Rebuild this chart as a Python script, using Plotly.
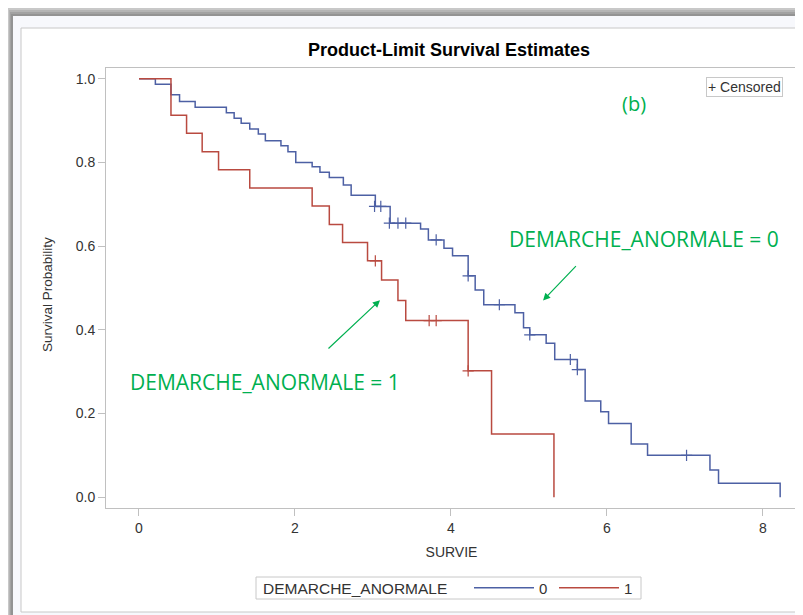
import plotly.graph_objects as go

# group 0 (DEMARCHE_ANORMALE = 0)
t0 = [0, 0.21, 0.41, 0.52, 0.72, 1.12, 1.22, 1.31, 1.42, 1.53, 1.62, 1.82, 1.91, 2.01,
      2.22, 2.32, 2.44, 2.62, 2.72, 3.03, 3.22, 3.61, 3.71, 3.91, 4.02, 4.22, 4.31,
      4.42, 4.82, 4.93, 5.01, 5.22, 5.33, 5.62, 5.72, 5.92, 6.02, 6.31, 6.52, 7.32,
      7.43, 8.22]
s0 = [1.0, 0.987, 0.962, 0.946, 0.932, 0.919, 0.906, 0.894, 0.880, 0.868, 0.852, 0.840,
      0.826, 0.800, 0.790, 0.777, 0.764, 0.746, 0.722, 0.695, 0.655, 0.641, 0.615, 0.595,
      0.577, 0.529, 0.495, 0.460, 0.441, 0.405, 0.388, 0.368, 0.329, 0.305, 0.230, 0.204,
      0.176, 0.127, 0.100, 0.065, 0.033, 0.0]
c0_t = [3.02, 3.10, 3.21, 3.32, 3.42, 3.81, 4.22, 4.62, 5.01, 5.53, 5.62, 7.02]
c0_s = [0.695, 0.695, 0.655, 0.655, 0.655, 0.615, 0.529, 0.460, 0.388, 0.329, 0.305, 0.100]

# group 1 (DEMARCHE_ANORMALE = 1)
t1 = [0, 0.41, 0.61, 0.81, 1.02, 1.42, 2.22, 2.44, 2.61, 2.93, 3.11, 3.32, 3.42, 4.22,
      4.52, 5.32]
s1 = [1.0, 0.913, 0.870, 0.826, 0.783, 0.739, 0.696, 0.652, 0.609, 0.565, 0.519, 0.470,
      0.422, 0.302, 0.151, 0.0]
c1_t = [3.03, 3.72, 3.81, 4.22]
c1_s = [0.565, 0.422, 0.422, 0.302]

BLUE = "#4d60a4"
RED = "#b94a40"
GREEN = "#00b050"

# page body has an 8px margin, so the figure sits 8px right/down of the window corner
OFF = 8
W, H = 803, 615
# plot area in window pixels
L, R, T, B = 106, 797, 68, 508


def px(x):
    return (x - L) / (R - L)


def py(y):
    return (B - y) / (B - T)


fig = go.Figure()

fig.add_trace(go.Scatter(x=t0, y=s0, mode="lines", line=dict(color=BLUE, width=1.5, shape="hv"),
                         name="0"))
fig.add_trace(go.Scatter(x=t1, y=s1, mode="lines", line=dict(color=RED, width=1.5, shape="hv"),
                         name="1"))
fig.add_trace(go.Scatter(x=c0_t, y=c0_s, mode="markers", showlegend=False,
                         marker=dict(symbol="cross-thin", size=8, line=dict(color=BLUE, width=1.2))))
fig.add_trace(go.Scatter(x=c1_t, y=c1_s, mode="markers", showlegend=False,
                         marker=dict(symbol="cross-thin", size=8, line=dict(color=RED, width=1.2))))

# window decoration: shadow + panel + inner border
shapes = []
for i, g in enumerate(["#c8c8c8", "#b4b4b4", "#a2a2a2", "#939393"]):
    shapes.append(dict(type="rect", xref="paper", yref="paper", layer="below",
                       x0=px(OFF + i), x1=px(W + 20), y0=py(OFF + i * 2), y1=py(H + 20),
                       fillcolor=g, line=dict(width=0)))
shapes.append(dict(type="rect", xref="paper", yref="paper", layer="below",
                   x0=px(13), x1=px(W + 20), y0=py(16), y1=py(H + 20),
                   fillcolor="#f7f8fc", line=dict(width=0)))
shapes.append(dict(type="rect", xref="paper", yref="paper", layer="below",
                   x0=px(21), x1=px(W + 20), y0=py(28), y1=py(612),
                   fillcolor="white", line=dict(color="#c8c8c8", width=1)))
# legend box
shapes.append(dict(type="rect", xref="paper", yref="paper", layer="below",
                   x0=px(256), x1=px(641), y0=py(577), y1=py(599),
                   fillcolor="white", line=dict(color="#c8c8c8", width=1)))

annotations = [
    dict(text="+ Censored", xref="paper", yref="paper", x=px(783), y=py(77),
         xanchor="right", yanchor="top", showarrow=False, font=dict(size=14, color="#333"),
         bordercolor="#c8c8c8", borderwidth=1, borderpad=1, bgcolor="white"),
    dict(text="DEMARCHE_ANORMALE", xref="paper", yref="paper", x=px(261), y=py(588),
         xanchor="left", yanchor="middle", showarrow=False, font=dict(size=15.5, color="#333")),
    dict(text="Survival Probability", xref="paper", yref="paper", x=px(47), y=py(295),
         xanchor="center", yanchor="middle",
         textangle=-90, showarrow=False, font=dict(size=13.5, color="#333")),
    dict(text="(b)", xref="x", yref="y", x=6.35, y=0.94, showarrow=False,
         font=dict(size=20, color=GREEN, family="Open Sans")),
    dict(text="DEMARCHE_ANORMALE = 0", xref="x", yref="y", x=6.47, y=0.617, showarrow=False,
         font=dict(size=21, color=GREEN, family="Open Sans")),
    dict(text="DEMARCHE_ANORMALE = 1", xref="x", yref="y", x=1.62, y=0.275, showarrow=False,
         font=dict(size=21, color=GREEN, family="Open Sans")),
    dict(x=5.18, y=0.47, ax=5.62, ay=0.556, xref="x", yref="y", axref="x", ayref="y",
         showarrow=True, arrowhead=2, arrowsize=1.2, arrowwidth=1.2, arrowcolor=GREEN, text=""),
    dict(x=3.09, y=0.471, ax=2.41, ay=0.352, xref="x", yref="y", axref="x", ayref="y",
         showarrow=True, arrowhead=2, arrowsize=1.2, arrowwidth=1.2, arrowcolor=GREEN, text=""),
]

fig.update_layout(
    width=W, height=H,
    margin=dict(l=L - OFF, r=W - (R - OFF), t=T - OFF, b=H - (B - OFF), autoexpand=False),
    paper_bgcolor="white", plot_bgcolor="white",
    font=dict(family="Arial, Liberation Sans", color="#333"),
    title=dict(text="<b>Product-Limit Survival Estimates</b>", xref="paper", x=px(449),
               xanchor="center", y=1 - (50 - OFF) / H, yanchor="middle",
               font=dict(size=18, color="black", family="Arial, Liberation Sans")),
    xaxis=dict(range=[-0.423, 8.436], tickvals=[0, 2, 4, 6, 8], showgrid=False, zeroline=False,
               showline=True, mirror=True, linecolor="#c0c0c0", ticks="outside", ticklen=7,
               tickcolor="#c0c0c0", tickfont=dict(size=14, color="#333"), automargin=False,
               title=dict(text="SURVIE", font=dict(size=14, color="#333"), standoff=12)),
    yaxis=dict(range=[-0.026, 1.026], tickvals=[0, 0.2, 0.4, 0.6, 0.8, 1.0], tickformat=".1f",
               showgrid=False, zeroline=False, showline=True, mirror=True, linecolor="#c0c0c0",
               ticks="outside", ticklen=7, tickcolor="#c0c0c0", tickfont=dict(size=14, color="#333"),
               automargin=False),
    legend=dict(orientation="h", x=px(469), xanchor="left", y=py(588), yanchor="middle",
                bgcolor="rgba(0,0,0,0)", borderwidth=0,
                font=dict(size=15, color="#333"), itemwidth=60, entrywidth=10),
    shapes=shapes,
    annotations=annotations,
)

fig.write_html("out.html")
